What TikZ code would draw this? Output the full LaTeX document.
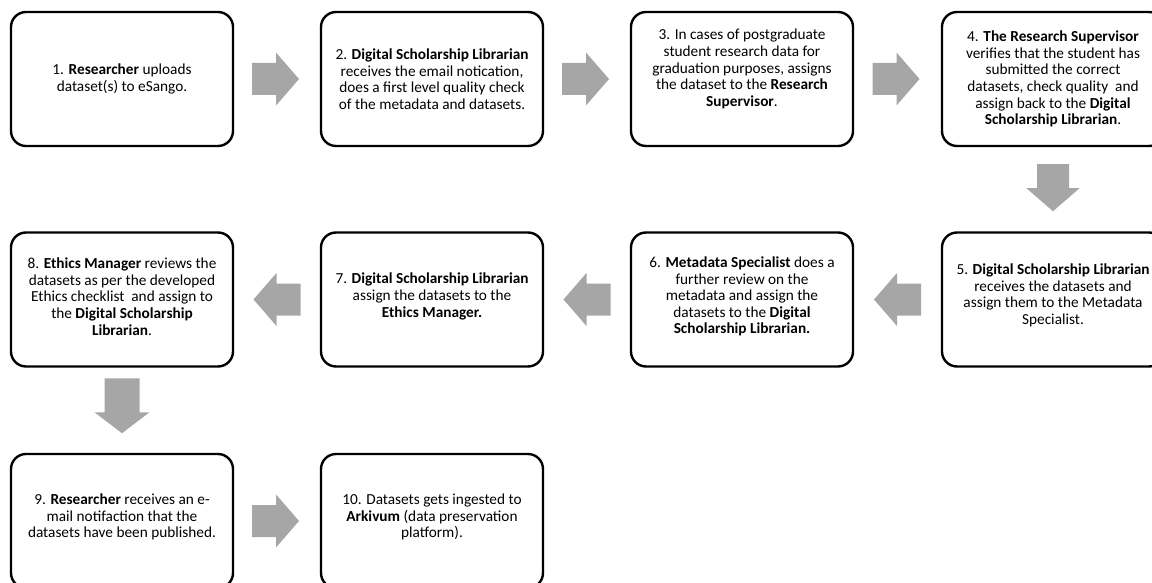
\documentclass[tikz,border=0pt]{standalone}
\usepackage{fontspec}
\setmainfont{Carlito}
\usetikzlibrary{calc}
\definecolor{arrowgray}{RGB}{166,166,166}
\begin{document}
\begin{tikzpicture}[x=1pt,y=1pt,
  stepbox/.style={draw=black, line width=2.4pt, rounded corners=15pt,
    minimum width=222pt, minimum height=134pt, inner sep=0pt},
  steptext/.style={align=center, inner sep=0pt,
    font=\fontsize{15.3}{16.6}\selectfont},
  harrow/.pic={\fill[arrowgray] (-23.5,-16) -- (0.5,-16) -- (0.5,-26.5) -- (23.5,0)
      -- (0.5,26.5) -- (0.5,16) -- (-23.5,16) -- cycle;},
  bigarrow/.pic={\fill[arrowgray] (-27.5,-17.5) -- (6.5,-17.5) -- (6.5,-27.5) -- (27.5,0)
      -- (6.5,27.5) -- (6.5,17.5) -- (-27.5,17.5) -- cycle;}
]
\useasboundingbox (0,0) rectangle (1152,-583);

\node[stepbox] (b1) at (122,-79) {};
\node[stepbox] (b2) at (432,-79) {};
\node[stepbox] (b3) at (742,-79) {};
\node[stepbox] (b4) at (1053,-79) {};
\node[stepbox] (b5) at (1053,-299.5) {};
\node[stepbox] (b6) at (742,-299.5) {};
\node[stepbox] (b7) at (432,-299.5) {};
\node[stepbox] (b8) at (122,-299.5) {};
\node[stepbox] (b9) at (122,-521) {};
\node[stepbox] (b10) at (432,-521) {};

\node[steptext] (t1) at (b1.center) {1. \textbf{Researcher} uploads\\dataset(s) to eSango.};
\node[steptext] (t2) at (b2.center) {2. \textbf{Digital Scholarship Librarian}\\receives the email notication,\\does a first level quality check\\of the metadata and datasets.};
\node[steptext] (t3) at ($(b3.center)+(0,10)$) {3. In cases of postgraduate\\student research data for\\graduation purposes, assigns\\the dataset to the \textbf{Research}\\\textbf{Supervisor}.};
\node[steptext] (t4) at (b4.center) {4. \textbf{The Research Supervisor}\\verifies that the student has\\submitted the correct\\datasets, check quality\ \ and\\assign back to the \textbf{Digital}\\\textbf{Scholarship Librarian}.};
\node[steptext] (t5) at ($(b5.center)+(0,4)$) {5. \textbf{Digital Scholarship Librarian}\\receives the datasets and\\assign them to the Metadata\\Specialist.};
\node[steptext] (t6) at ($(b6.center)+(0,3)$) {6. \textbf{Metadata Specialist} does a\\further review on the\\metadata and assign the\\datasets to the \textbf{Digital}\\\textbf{Scholarship Librarian.}};
\node[steptext] (t7) at ($(b7.center)+(0,3)$) {7. \textbf{Digital Scholarship Librarian}\\assign the datasets to the\\\textbf{Ethics Manager.}};
\node[steptext] (t8) at ($(b8.center)+(0,3)$) {8. \textbf{Ethics Manager} reviews the\\datasets as per the developed\\Ethics checklist\ \ and assign to\\the \textbf{Digital Scholarship}\\\textbf{Librarian}.};
\node[steptext] (t9) at ($(b9.center)+(0,4)$) {9. \textbf{Researcher} receives an e-\\mail notifaction that the\\datasets have been published.};
\node[steptext] (t10) at ($(b10.center)+(0,4)$) {10. Datasets gets ingested to\\\textbf{Arkivum} (data preservation\\platform).};

\pic[xshift=-1.5pt] at ($(b1.east)!0.5!(b2.west)$) {harrow};
\pic[xshift=-1.5pt] at ($(b2.east)!0.5!(b3.west)$) {harrow};
\pic[xshift=-1.5pt] at ($(b3.east)!0.5!(b4.west)$) {harrow};
\pic[yshift=1.5pt, rotate=-90] at ($(b4.south)!0.5!(b5.north)$) {harrow};
\pic[rotate=180] at ($(b5.west)!0.5!(b6.east)$) {harrow};
\pic[rotate=180] at ($(b6.west)!0.5!(b7.east)$) {harrow};
\pic[rotate=180] at ($(b7.west)!0.5!(b8.east)$) {harrow};
\pic[yshift=4.5pt, rotate=-90] at ($(b8.south)!0.5!(b9.north)$) {bigarrow};
\pic[xshift=-1.5pt] at ($(b9.east)!0.5!(b10.west)$) {harrow};
\end{tikzpicture}
\end{document}
